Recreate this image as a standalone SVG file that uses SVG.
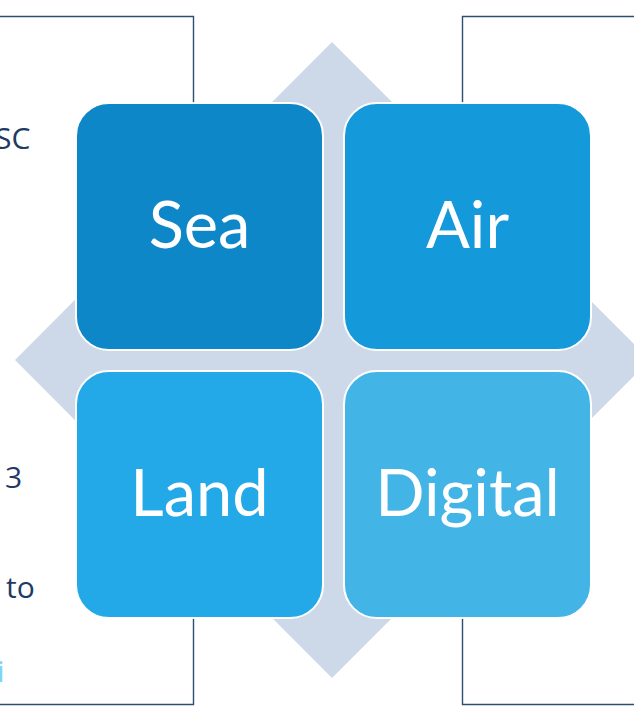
<svg xmlns="http://www.w3.org/2000/svg" width="634" height="709" viewBox="0 0 634 709">
<style>
.frame{fill:none;stroke:#2F4C72;stroke-width:1.4}
.box{stroke:#FFFFFF;stroke-width:2}
.lbl{font-family:Lato,"Open Sans","Liberation Sans",sans-serif;font-size:65px;fill:#FFFFFF;text-anchor:middle}
.side{font-family:"Open Sans","Noto Sans","Liberation Sans",sans-serif;font-size:30px;fill:#1F3A63}
</style>
<rect width="634" height="709" fill="#FFFFFF"/>
<g id="connectors">
<polyline class="frame" points="0,16.5 193.5,16.5 193.5,106"/>
<polyline class="frame" points="193.5,612 193.5,704.5 0,704.5"/>
<polyline class="frame" points="634,16.5 462.5,16.5 462.5,106"/>
<polyline class="frame" points="462.5,612 462.5,704.5 634,704.5"/>
</g>
<g id="side-text">
<text class="side" x="-5" y="149">SC</text>
<text class="side" x="5" y="488">3</text>
<text class="side" x="6" y="598">to</text>
<text class="side" x="-3" y="682" style="fill:#7FD4F8">i</text>
</g>
<g id="diamond">
<polygon points="332,42 650,360 332,678 15,360" fill="#CDD9E9"/>
</g>
<g id="sea">
<rect class="box" x="76" y="103" width="247" height="247" rx="33" fill="#0E87C8"/>
<text class="lbl" x="199.5" y="248">Sea</text>
</g>
<g id="air">
<rect class="box" x="344" y="103" width="247" height="247" rx="33" fill="#1499DB"/>
<text class="lbl" x="467.5" y="248">Air</text>
</g>
<g id="land">
<rect class="box" x="76" y="371" width="247" height="247" rx="33" fill="#23A9E7"/>
<text class="lbl" x="199.5" y="516">Land</text>
</g>
<g id="digital">
<rect class="box" x="344" y="371" width="247" height="247" rx="33" fill="#43B4E6"/>
<text class="lbl" x="467.5" y="516">Digital</text>
</g>
</svg>
